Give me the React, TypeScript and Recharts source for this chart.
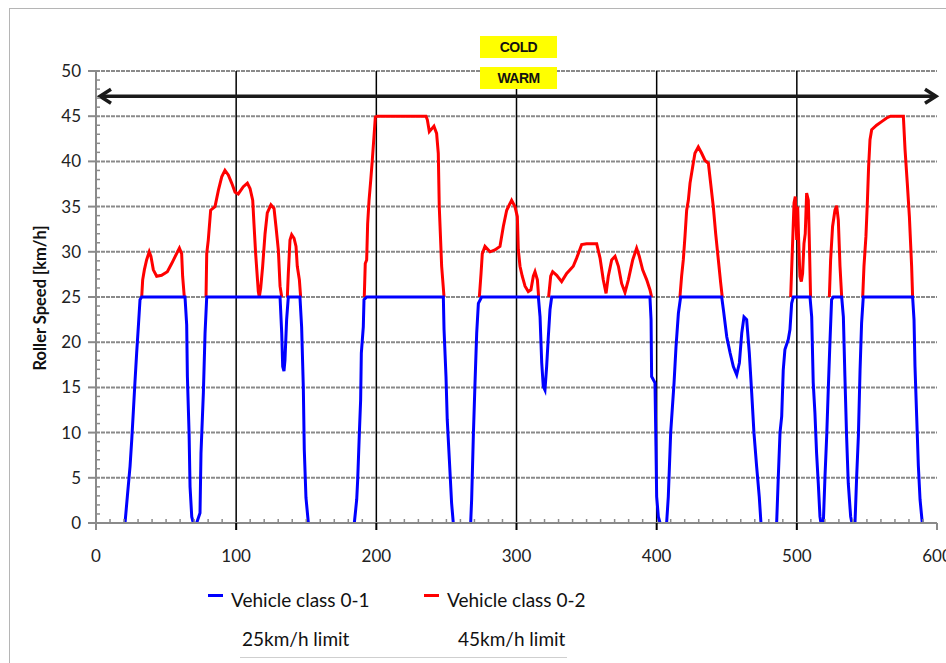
import React from "react";
import { LineChart, Line, XAxis, YAxis, ReferenceLine } from "recharts";

// Vehicle class 0-1 (25 km/h limit): time [s] / roller speed [km/h], null = gap
const class01Time = [
  20.7, 22.4, 24.3, 25.5, 26.7, 27.8, 29, 30.2, 31.4, 32.6, 63.5, 64.7, 65.2, 66.4, 67.1, 68.3, 69.4,
  70.5,
  71.8, 74.2, 74.9, 76.6, 77.8, 79, 131.3, 132.5, 133.2, 134.1, 134.8, 136, 137.2, 145.5, 146.7, 147.9, 148.6, 149.8, 151.5,
  170,
  184.3, 186, 186.7, 187.9, 188.8, 189.3, 190.7, 191.2, 193.1, 247.8, 248.3, 249.7, 250.6, 252.1, 253.7, 254.9,
  260,
  267.3, 268, 269.2, 270.4, 271.6, 272.8, 275.1, 315.6, 316.8, 318, 319.1, 320.3, 321.5, 322.7, 323.9, 325.1, 395.2, 396, 396.4, 398.8, 399.5, 400, 401.2, 402.4,
  405,
  407.1, 408.3, 410, 412.4, 413.8, 415.5, 417.1, 446.4, 447.6, 450, 452.4, 454.7, 457.1, 459, 460.7, 462.3, 464.2, 466.1, 467.8, 469.4, 471.3, 473.2, 474.4,
  480,
  485.6, 486.8, 488, 489.2, 490.3, 491.5, 493.9, 495.1, 496.3, 497.5, 509.4, 510.6, 511.7, 512.9, 514.1, 515.3, 516.5, 517.2,
  518,
  518.9, 520.1, 521.3, 522.5, 523.6, 524.8, 526, 532, 533.2, 534.3, 535.5, 536.7, 538.4, 539.3,
  540.4,
  541.5, 542.7, 543.9, 545.1, 546.2, 547.4, 582.6, 583.6, 584.3, 585.5, 586.7, 587.9, 589.5,
];
const class01Speed = [
  0, 3, 6.3, 9.2, 12.5, 15.6, 18.8, 21.7, 24.7, 25, 25, 21.9, 16.2, 10, 4, 0.7, 0,
  null,
  0, 1.1, 7.7, 14.4, 21, 25, 25, 21, 17.3, 16.8, 18, 22.5, 25, 25, 21.7, 15.1, 8.1, 2.8, 0,
  null,
  0, 2.6, 4.8, 10, 13.6, 18.8, 21.7, 24.7, 25, 25, 21.4, 16.2, 11.4, 7, 2.2, 0,
  null,
  0, 2.6, 9.6, 15.5, 21, 24.3, 25, 25, 22.8, 17.7, 15.1, 14.7, 17.3, 20.6, 23.6, 25, 25, 22.5, 16.2, 15.5, 8.5, 2.9, 0.7, 0,
  null,
  0, 2.9, 10, 15.5, 19.5, 23.2, 25, 25, 23.6, 20.6, 18.8, 17.3, 16.4, 17.7, 21, 22.8, 22.5, 18.8, 14.4, 10, 6.3, 2.9, 0,
  null,
  0, 5.2, 10, 11.8, 16.9, 19.2, 20.3, 21.4, 24.3, 25, 25, 22.8, 15.5, 12.2, 7.7, 4.4, 0.7, 0,
  null,
  0, 5.2, 9.6, 15.1, 19.9, 24.7, 25, 25, 22.8, 16.2, 9.6, 4.4, 0.7, 0,
  null,
  0, 5.2, 9.6, 16.9, 22.1, 25, 25, 22.5, 17.3, 11.8, 6.3, 2.6, 0,
];

// Vehicle class 0-2 (45 km/h limit): only the part above 25 km/h is shown
const class02Time = [
  32.6, 33.3, 34.5, 36.1, 38, 39.2, 40.9, 43.3, 46.8, 50.9, 54, 57.5, 59.5, 61.1, 61.8, 63,
  70,
  78.5, 79, 80.1, 81.8, 84.9, 87.3, 89.7, 92, 94.4, 96.8, 99.2, 101.5, 105.1, 108, 109.9, 111.8, 112.7, 113.9, 115.8, 116.5, 117.5, 118.9, 120.6, 122.2, 124.8, 127, 128.4, 130.1, 131.3, 132.5,
  134,
  136.5, 137.2, 138.4, 139.6, 141.3, 142.7, 143.6, 145.1, 146,
  170,
  191.4, 192.1, 193.1, 193.8, 194.8, 196, 197.1, 198.3, 199.3, 200.7, 235.4, 236.4, 237.8, 239.5, 241.1, 243, 244.2, 244.9, 246.6, 248.3,
  260,
  273.5, 274.7, 275.6, 277.5, 281.1, 284.6, 288.2, 290.6, 293, 296.5, 298.9, 300.6, 301.3, 302.5, 304.1, 306.1, 308.4, 310.3, 312, 313.2, 314.9, 315.8,
  319,
  322.9, 324.4, 325.8, 328.7, 332.2, 335.8, 340.5, 342.9, 346.5, 350, 357.2, 359.6, 361.9, 363.9, 365.5, 367.9, 370.3, 372.7, 375, 377.4, 379.8, 382.9, 385.7, 387.6, 390, 392.9, 395.2, 396.4,
  405,
  416.6, 417.8, 419, 420.2, 421.4, 422.6, 423.8, 425.7, 427.3, 429.7, 432.1, 434.5, 436.9, 438.5, 440.4, 442.1, 444, 445.7, 446.8,
  470,
  495.6, 496.8, 498, 498.9, 499.9, 500.6, 501.3, 502.2, 503.2, 504.1, 505.1, 506, 507, 508.2, 508.9, 509.8,
  516,
  523.2, 524.1, 525.5, 527.2, 528.4, 529.6, 530.8, 532,
  540,
  547, 547.9, 549.3, 550.3, 551.2, 552.2, 553.4, 556.9, 560.5, 564.1, 566.9, 576, 577.2, 578.8, 580.3, 581.9, 582.6,
];
const class02Speed = [
  25, 26.9, 28, 29.1, 30, 29.5, 28, 27.3, 27.4, 27.8, 28.7, 29.8, 30.4, 29.8, 27.3, 25,
  null,
  25, 29.8, 31.3, 34.6, 35, 36.8, 38.3, 39, 38.5, 37.6, 36.6, 36.4, 37.2, 37.6, 37, 35.7, 33.1, 29.8, 25.6, 25, 26, 28.4, 32, 34.3, 35.2, 34.8, 32.8, 30.2, 26.2, 25,
  null,
  25, 27.6, 31.3, 31.9, 31.5, 30.6, 28.4, 26.9, 25,
  null,
  25, 28.7, 29.1, 33.1, 35.7, 37.9, 40.1, 42.7, 44.9, 45, 45, 44.6, 43.3, 43.6, 43.9, 43.1, 40.9, 35, 28.4, 25,
  null,
  25, 27.6, 29.8, 30.6, 30, 30.2, 30.6, 32.8, 34.6, 35.7, 35, 33.9, 30.2, 28.4, 27.3, 26.2, 25.6, 25.8, 27.3, 27.8, 26.9, 25,
  null,
  25, 27.3, 27.8, 27.4, 26.7, 27.6, 28.4, 29.3, 30.8, 30.9, 30.9, 29.3, 26.9, 25.4, 27.3, 29.1, 29.5, 28.4, 26.5, 25.5, 26.9, 29.1, 30.4, 29.5, 28, 26.9, 25.8, 25,
  null,
  25, 27.3, 29.1, 31.7, 34.6, 35.7, 37.6, 39.4, 40.9, 41.6, 40.9, 40.1, 39.8, 37.6, 35, 32, 29.1, 26.5, 25,
  null,
  25, 30.2, 35.4, 36.1, 31.3, 35, 31.3, 27.3, 26.7, 27.6, 30.9, 32, 36.5, 35.7, 31.3, 25,
  null,
  25, 29.1, 32.8, 34.6, 35.1, 33.5, 28.4, 25,
  null,
  25, 28.4, 31.7, 35.4, 39.4, 42.4, 43.5, 44, 44.4, 44.8, 45, 45, 41.3, 37.6, 33.9, 28.4, 25,
];

const xLabels = [0, 100, 200, 300, 400, 500, 600];
const yLabels = [0, 5, 10, 15, 20, 25, 30, 35, 40, 45, 50];
const xTicks = Array.from({ length: 61 }, (_, i) => i * 10);
const yTicks = Array.from({ length: 51 }, (_, i) => i);

const phaseLabels = ["COLD", "WARM"];
const arrowLevel = 47.2;

const legendItems = [
  { name: "Vehicle class 0-1", limit: "25km/h limit", color: "#0000ff" },
  { name: "Vehicle class 0-2", limit: "45km/h limit", color: "#ff0000" },
];

const data01 = class01Time.map((t, i) => ({ t, v: class01Speed[i] }));
const data02 = class02Time.map((t, i) => ({ t, v: class02Speed[i] }));

const FONT = "Lato, 'Open Sans', sans-serif";
const GRID = "#8a8a8a";

const YTick = (props: any) => {
  const { x, y, payload } = props;
  const v = payload.value;
  const major = yLabels.includes(v);
  return (
    <g>
      {major ? (
        <line x1={x - 8} x2={x} y1={y} y2={y} stroke={GRID} strokeWidth={2} />
      ) : (
        <line x1={x} x2={x + 4} y1={y} y2={y} stroke={GRID} strokeWidth={1.5} />
      )}
      {major && (
        <text x={x - 15} y={y} dy="0.35em" textAnchor="end" fontSize={17} fontFamily={FONT} fill="#222">
          {v}
        </text>
      )}
    </g>
  );
};

const XTick = (props: any) => {
  const { x, y, payload } = props;
  const v = payload.value;
  const major = xLabels.includes(v);
  return (
    <g>
      {major ? (
        <line x1={x} x2={x} y1={y} y2={y + 7} stroke={v === 0 || v === 600 ? GRID : "#000"} strokeWidth={2} />
      ) : (
        <line x1={x} x2={x} y1={y - 4} y2={y} stroke={GRID} strokeWidth={1.5} />
      )}
      {major && (
        <text x={x} y={y + 33} dy="0.35em" textAnchor="middle" fontSize={17} fontFamily={FONT} fill="#222">
          {v}
        </text>
      )}
    </g>
  );
};

const ArrowShape = (props: any) => {
  const { x1, x2, y1 } = props;
  const l = x1 + 4;
  const r = x2 - 1;
  return (
    <g stroke="#1a1a1a" strokeWidth={3.5} fill="none">
      <line x1={l + 2} x2={r - 2} y1={y1} y2={y1} />
      <polyline points={`${l + 11},${y1 - 7} ${l},${y1} ${l + 11},${y1 + 7}`} />
      <polyline points={`${r - 11},${y1 - 7} ${r},${y1} ${r - 11},${y1 + 7}`} />
    </g>
  );
};

const YLabel = () => (
  <text
    x={40}
    y={298}
    transform="rotate(-90 40 298)"
    textAnchor="middle"
    dominantBaseline="central"
    fontSize={16.5}
    fontWeight="bold"
    fontFamily={FONT}
    fill="#111"
  >
    Roller Speed [km/h]
  </text>
);

export default function App() {
  return (
    <div style={{ position: "absolute", left: 0, top: 0, width: 946, height: 663, overflow: "hidden", background: "#fff" }}>
      <div style={{ position: "absolute", left: 9, top: 8, width: 1000, height: 800, border: "1.5px solid #b5b5b5" }} />
      <div style={{ position: "absolute", left: 0, top: 0 }}>
        <LineChart width={946} height={663} margin={{ top: 71, right: 9, left: 36, bottom: 110 }}>
          <XAxis
            type="number"
            dataKey="t"
            domain={[0, 600]}
            ticks={xTicks}
            interval={0}
            height={30}
            tickSize={0}
            tickMargin={0}
            tick={<XTick />}
            axisLine={{ stroke: GRID, strokeWidth: 2 }}
            allowDuplicatedCategory={false}
          />
          <YAxis
            type="number"
            domain={[0, 50]}
            ticks={yTicks}
            interval={0}
            width={60}
            tickSize={0}
            tickMargin={0}
            tick={<YTick />}
            axisLine={{ stroke: GRID, strokeWidth: 2 }}
            label={<YLabel />}
          />
          {yLabels.slice(1).map((v) => (
            <ReferenceLine key={"h" + v} y={v} stroke={GRID} strokeWidth={2} strokeDasharray="4 1" />
          ))}
          {xLabels.slice(1, -1).map((v) => (
            <ReferenceLine key={"v" + v} x={v} stroke="#000" strokeWidth={1.5} />
          ))}
          <ReferenceLine y={arrowLevel} shape={<ArrowShape />} />
          <Line
            data={data02}
            dataKey="v"
            type="linear"
            stroke="#ff0000"
            strokeWidth={3}
            dot={false}
            connectNulls={false}
            isAnimationActive={false}
            name={legendItems[1].name}
          />
          <Line
            data={data01}
            dataKey="v"
            type="linear"
            stroke="#0000ff"
            strokeWidth={3}
            dot={false}
            connectNulls={false}
            isAnimationActive={false}
            name={legendItems[0].name}
          />
        </LineChart>
      </div>
      {phaseLabels.map((p, i) => (
        <div
          key={p}
          style={{
            position: "absolute",
            left: 480,
            top: 36 + i * 31,
            width: 77,
            height: 22,
            background: "#ffff00",
            fontFamily: "'Liberation Sans', Arial, sans-serif",
            fontWeight: "bold",
            fontSize: 14,
            letterSpacing: -0.6,
            lineHeight: "22px",
            textAlign: "center",
            color: "#111",
          }}
        >
          {p}
        </div>
      ))}
      {legendItems.map((it, i) => (
        <div key={it.name} style={{ position: "absolute", left: 208 + i * 216, top: 587, fontFamily: FONT, fontSize: 19, color: "#111" }}>
          <div style={{ display: "flex", alignItems: "center", height: 24 }}>
            <span style={{ display: "inline-block", width: 15, height: 3, background: it.color, marginRight: 8, marginTop: -8 }} />
            <span>{it.name}</span>
          </div>
          <div style={{ position: "absolute", left: 34, top: 40, whiteSpace: "nowrap" }}>{it.limit}</div>
        </div>
      ))}
      <div style={{ position: "absolute", left: 240, top: 657, width: 327, height: 1, background: "#cfcfcf" }} />
    </div>
  );
}
